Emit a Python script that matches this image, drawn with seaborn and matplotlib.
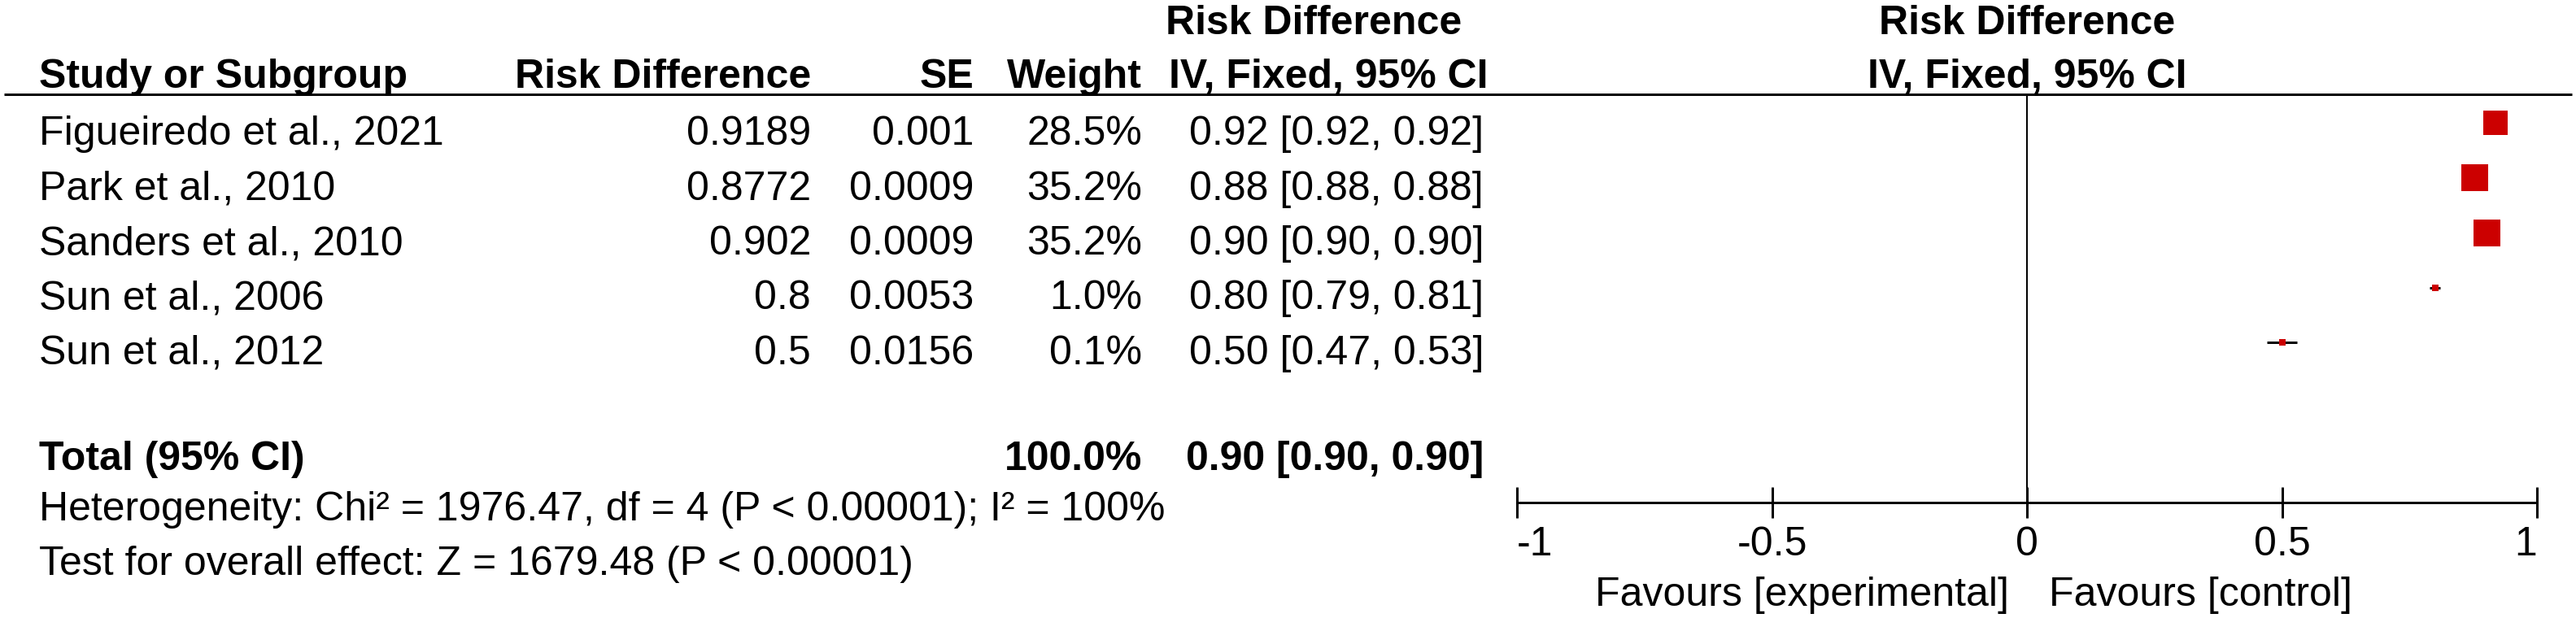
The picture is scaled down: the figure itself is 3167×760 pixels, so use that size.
import matplotlib
matplotlib.use("Agg")
import matplotlib.pyplot as plt
import seaborn as sns
import pandas as pd
import numpy as np

# ---------------- data ----------------
studies = ["Figueiredo et al., 2021", "Park et al., 2010", "Sanders et al., 2010",
           "Sun et al., 2006", "Sun et al., 2012"]
risk_diff = [0.9189, 0.8772, 0.902, 0.8, 0.5]
se_vals = ["0.001", "0.0009", "0.0009", "0.0053", "0.0156"]
weights = [28.5, 35.2, 35.2, 1.0, 0.1]
ci_low = [0.92, 0.88, 0.90, 0.79, 0.47]
ci_high = [0.92, 0.88, 0.90, 0.81, 0.53]

total_weight = 100.0
total_est = 0.90
total_low = 0.90
total_high = 0.90
heterogeneity = "Heterogeneity: Chi² = 1976.47, df = 4 (P < 0.00001); I² = 100%"
overall = "Test for overall effect: Z = 1679.48 (P < 0.00001)"

xticks = [-1, -0.5, 0, 0.5, 1]
xtick_labels = ["-1", "-0.5", "0", "0.5", "1"]
favours_left = "Favours [experimental]"
favours_right = "Favours [control]"

# ---------------- style ----------------
sns.set_theme(style="white")
plt.rcParams["font.family"] = ["Liberation Sans", "DejaVu Sans"]

W, H = 3167, 760
DPI = 100
PX = 72.0 / DPI          # points per pixel
FS = 50 * PX             # 50 px font

fig = plt.figure(figsize=(W / DPI, H / DPI), dpi=DPI)
fig.patch.set_facecolor("white")

# table axes in pixel coordinates
ax_t = fig.add_axes([0, 0, 1, 1])
ax_t.set_xlim(0, W)
ax_t.set_ylim(H, 0)
ax_t.axis("off")

# layout (pixels)
HDR1 = 42
HDR2 = 108
LINE_Y = 116
ROW0 = 178
STEP = 67.5
TOTAL_Y = 578
HET_Y = 640
TEST_Y = 707
AXIS_Y = 618

X_NAME = 48
X_RD = 997
X_SE = 1197
X_W = 1404
X_CI = 1824

ZERO_PX = 2492
UNIT_PX = 627

def txt(x, y, s, ha="left", bold=False):
    ax_t.text(x, y, s, ha=ha, va="baseline", fontsize=FS,
              fontweight="bold" if bold else "normal", color="black")

# headers
txt(1615, HDR1, "Risk Difference", ha="center", bold=True)
txt(X_NAME, HDR2, "Study or Subgroup", bold=True)
txt(X_RD, HDR2, "Risk Difference", ha="right", bold=True)
txt(X_SE, HDR2, "SE", ha="right", bold=True)
txt(X_W, HDR2, "Weight", ha="right", bold=True)
txt(1633, HDR2, "IV, Fixed, 95% CI", ha="center", bold=True)
txt(ZERO_PX, HDR1, "Risk Difference", ha="center", bold=True)
txt(ZERO_PX, HDR2, "IV, Fixed, 95% CI", ha="center", bold=True)

ax_t.hlines(LINE_Y, 5, 3162, color="black", linewidth=3 * PX)

# rows
row_base = [ROW0 + i * STEP for i in range(len(studies))]
for yb, name, rd, se, w, lo, hi in zip(row_base, studies, risk_diff, se_vals,
                                       weights, ci_low, ci_high):
    txt(X_NAME, yb, name)
    txt(X_RD, yb, str(rd), ha="right")
    txt(X_SE, yb, se, ha="right")
    txt(X_W, yb, f"{w:.1f}%", ha="right")
    txt(X_CI, yb, f"{rd:.2f} [{lo:.2f}, {hi:.2f}]", ha="right")

txt(X_NAME, TOTAL_Y, "Total (95% CI)", bold=True)
txt(X_W, TOTAL_Y, f"{total_weight:.1f}%", ha="right", bold=True)
txt(X_CI, TOTAL_Y, f"{total_est:.2f} [{total_low:.2f}, {total_high:.2f}]", ha="right", bold=True)
txt(X_NAME, HET_Y, heterogeneity)
txt(X_NAME, TEST_Y, overall)

txt(ZERO_PX - 22, 745, favours_left, ha="right")
txt(ZERO_PX + 27, 745, favours_right, ha="left")

# forest axes: x in effect units, y in pixels
left_px = ZERO_PX - UNIT_PX
ax_f = fig.add_axes([left_px / W, 0, 2 * UNIT_PX / W, 1])
ax_f.patch.set_visible(False)
ax_f.set_xlim(-1, 1)
ax_f.set_ylim(H, 0)

df = pd.DataFrame({
    "rd": risk_diff,
    "lo": ci_low,
    "hi": ci_high,
    "w": weights,
    "y": [yb - 27 for yb in row_base],
})
# square area proportional to weight, with a small minimum size
max_side_pt = 33 * PX
min_side_pt = 8 * PX
df["area"] = np.maximum(max_side_pt ** 2 * df["w"] / max(weights), min_side_pt ** 2)

ax_f.hlines(df["y"], df["lo"], df["hi"], color="black", linewidth=3 * PX, zorder=2)
sns.scatterplot(data=df, x="rd", y="y", size="area",
                sizes=(df["area"].min(), df["area"].max()),
                size_norm=(df["area"].min(), df["area"].max()),
                marker="s", color="#CC0000", linewidth=0, legend=False,
                ax=ax_f, zorder=3)

ax_f.vlines(0, LINE_Y, AXIS_Y, color="black", linewidth=2 * PX, zorder=1)

for side in ["left", "right", "top"]:
    ax_f.spines[side].set_visible(False)
ax_f.spines["bottom"].set_position(("data", AXIS_Y))
ax_f.spines["bottom"].set_linewidth(3 * PX)
ax_f.spines["bottom"].set_color("black")
ax_f.set_yticks([])
ax_f.set_xticks(xticks)
ax_f.set_xticklabels(xtick_labels)
ax_f.tick_params(axis="x", direction="inout", length=38 * PX, width=3 * PX,
                 pad=10 * PX, labelsize=FS, colors="black", bottom=True)
labs = ax_f.get_xticklabels()
labs[0].set_ha("left")
labs[-1].set_ha("right")
ax_f.set_xlabel("")
ax_f.set_ylabel("")

fig.savefig("out.png", dpi=DPI, facecolor="white")
